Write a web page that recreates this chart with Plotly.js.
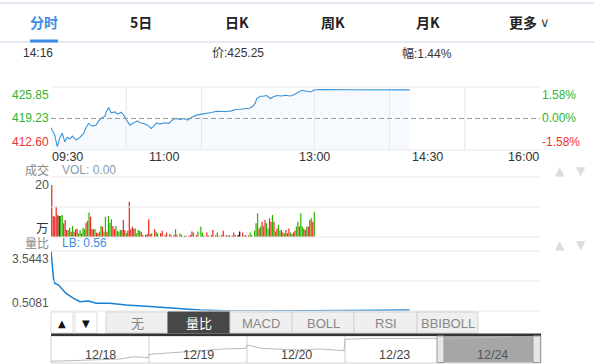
<!DOCTYPE html>
<html><head><meta charset="utf-8">
<script src="https://cdn.plot.ly/plotly-3.0.1.min.js"></script>
<style>html,body{margin:0;padding:0;background:#fff;overflow:hidden}#chart{width:594px;height:364px}</style>
</head><body><div id="chart"></div>
<script>
const DAY = '2024-12-24';
const tabLabels = ['分时','5日','日K','周K','月K','更多'];
const infoTime = '14:16';
const lastPrice = 425.25;
const changePct = 1.44;
const prevClose = 419.23;
const priceTicks = [425.85, 419.23, 412.60];
const pctTicks = ['1.58%', '0.00%', '-1.58%'];
const timeTicks = ['09:30','11:00','13:00','14:30','16:00'];
const gridTimes = ['10:30','11:30','13:00','14:00','15:00'];

const priceTimes = ['09:30','09:33','09:35','09:37','09:39','09:41','09:43','09:45','09:47','09:50',
 '09:53','09:56','09:58','10:00','10:03','10:06','10:08','10:10','10:13','10:14',
 '10:16','10:18','10:21','10:23','10:26','10:28','10:30','10:33','10:36','10:39',
 '10:41','10:44','10:47','10:50','10:52','10:54','10:57','11:00','11:04','11:06',
 '11:09','11:13','11:16','11:19','11:22','11:26','11:30','11:34','11:38','11:42',
 '11:46','11:50','11:54','11:57','12:01','12:05','12:08','12:11','12:13','12:14',
 '12:17','12:19','12:22','12:25','12:27','12:30','12:34','12:37','12:41','12:44',
 '12:46','12:50','12:53','12:57','13:00','13:04','13:30','14:00','14:16'];
const priceValues = [417.27,415.74,413.29,415.11,416.16,414.34,415.26,414.90,415.53,414.69,
 415.26,416.10,417.35,418.19,417.62,417.83,418.73,419.24,419.72,420.62,
 421.54,420.41,420.62,420.14,420.55,419.93,419.03,417.83,418.32,418.73,
 418.32,418.19,417.83,417.14,417.62,418.32,418.04,418.32,418.19,418.73,
 419.24,419.03,419.24,418.88,419.45,419.93,420.14,420.24,420.49,420.76,
 420.70,420.70,420.83,421.12,421.18,421.25,421.39,421.81,422.50,423.42,
 423.90,423.90,424.05,423.42,423.76,424.05,423.97,424.11,423.97,424.26,
 424.59,425.16,425.01,424.80,425.22,425.31,425.28,425.27,425.25];

const volValues = [20,8.1,7.8,11.7,8.5,8.1,8.1,8.5,5.3,6.5,
 2.7,2.7,3.6,2,4.2,2,3,3.2,1.4,2.7,
 1.4,3.6,3,5.5,6.3,9.4,7.8,3,3,3,
 1.7,1.4,2,4.2,4,2,7.8,2,8.1,5.5,
 6.8,4.2,3,4.2,2.4,2,2.7,2.7,6.5,2.7,
 1.4,2.4,13.6,3,4,3.3,3.3,1.4,2.7,2.4,
 2,0.8,0,0.8,1.2,6.8,1.2,1.4,0,3,
 2,1.4,0,1.4,2.4,0,0.8,1.7,0,1.2,
 0.8,0,0.8,3,1,0,1.4,0.8,0,0.4,
 0.5,0,0.5,0.8,2.1,1.7,0,0.8,2.1,0,
 4,1.7,0.6,0,1.7,0.6,0,0.8,2.7,0,
 0.8,1.7,0.5,0,0.8,2.4,0,0.8,0.5,0.6,
 0,0.5,1.7,0.8,0,0.8,2.1,0,1.7,0.5,
 0.8,0,0.6,1.7,0.8,0,2.4,5.3,9.1,3.3,
 4,5.9,4.2,6.5,5.3,3.3,7.2,5.9,8.5,5.9,
 2.1,3.3,4.6,2.4,2.7,1.7,1.4,2.7,1.4,3.3,
 1.7,1.2,1.7,2.4,4,5.9,4,9.1,4,3.3,
 2.7,4,4,6.5,7.2,5.9,9.7];
const volDir = [1,1,1,1,1,0,-1,-1,1,1,
 1,-1,-1,1,-1,1,1,1,-1,-1,
 1,-1,-1,1,-1,-1,1,1,1,-1,
 1,1,-1,-1,1,-1,-1,1,-1,-1,
 -1,1,1,-1,-1,-1,-1,1,1,1,
 -1,1,1,1,1,1,-1,-1,-1,-1,
 1,1,0,0,-1,1,1,-1,0,1,
 -1,-1,0,1,1,0,1,1,0,-1,
 1,0,1,-1,1,0,-1,1,0,0,
 1,0,1,1,1,-1,0,1,-1,0,
 -1,-1,1,0,1,-1,0,1,1,0,
 1,-1,-1,0,1,1,0,1,-1,0,
 0,1,1,1,0,0,0,0,1,-1,
 1,0,1,-1,-1,0,-1,-1,-1,1,
 -1,1,-1,1,-1,-1,1,1,-1,1,
 -1,1,-1,-1,1,1,-1,1,1,1,
 -1,-1,1,1,-1,-1,1,-1,-1,1,
 1,-1,1,1,-1,1,-1];
const volMaxLabel = '20';
const volUnit = '万';
const volLabel = 'VOL: 0.00';

const lbTimes = ['09:30','09:31','09:32','09:33','09:36','09:38','09:42','09:48','09:53','10:00',
 '10:06','10:17','10:30','10:49','11:07','11:29','11:55','12:22','12:49','13:30','14:16'];
const lbValues = [3.54,2.67,2.16,1.91,1.82,1.69,1.40,1.15,0.98,1.01,
 0.90,0.90,0.81,0.73,0.65,0.56,0.51,0.51,0.51,0.53,0.56];
const lbTicks = [3.5443, 0.5081];
const lbLabel = 'LB: 0.56';

const indicatorTabs = ['无','量比','MACD','BOLL','RSI','BBIBOLL'];
const activeIndicator = '量比';

const navDays = ['12/18','12/19','12/20','12/23','12/24'];
const navX = [0,0.25,0.5,0.7,0.85,0.99, 1.0,1.25,1.5,1.75,1.99, 2.0,2.15,2.5,2.75,2.99, 3.0,3.25,3.5,3.75,3.99, 4.0,4.25,4.5,4.7];
const navValues = [400.7,401.5,402,403,405.3,404.3, 407.7,409,411,413,413.7, 417,413.7,412,413,411.3, 422.7,423.5,423.7,423.5,423.7, 423.2,424,424.5,425.2];

// ---------- layout helpers ----------
const W = 594, H = 364;
const px = x => x / W;
const py = y => 1 - y / H;
const F = '"Liberation Sans", Arial, "Noto Sans CJK SC", sans-serif';
const T = t => DAY + ' ' + t;
const UP = '#f0261e', DOWN = '#2db400', FLAT = '#111111';
const GREEN_TXT = '#2eb52e', RED_TXT = '#f03232';
const GRID = '#e8e8e8';

const plotL = 51, plotR = 540, barsR = 315;

function txt(x, y, text, o) {
  o = o || {};
  return {xref: o.xref || 'paper', yref: o.yref || 'paper',
    x: o.xref ? x : px(x), y: o.yref ? y : py(y), text: text, showarrow: false,
    xanchor: o.xa || 'center', yanchor: o.ya || 'middle', borderpad: 0,
    font: {family: o.family || F, size: o.size || 12, color: o.color || '#333'}};
}
function hline(y, x0, x1, color, width, dash) {
  return {type: 'line', xref: 'paper', yref: 'paper', x0: px(x0), x1: px(x1), y0: py(y), y1: py(y),
    line: {color: color, width: width || 1, dash: dash || 'solid'}};
}
function rect(x0, y0, x1, y1, fill, lineColor, layer) {
  return {type: 'rect', xref: 'paper', yref: 'paper', x0: px(x0), x1: px(x1), y0: py(y1), y1: py(y0),
    fillcolor: fill, line: {color: lineColor || fill, width: lineColor ? 1 : 0}, layer: layer || 'above'};
}

// ---------- traces ----------
const priceTrace = {
  type: 'scatter', mode: 'lines', x: priceTimes.map(T), y: priceValues,
  xaxis: 'x', yaxis: 'y', line: {color: '#3a93d8', width: 1.1},
  fill: 'tozeroy', fillcolor: 'rgba(214,230,250,0.22)', hoverinfo: 'skip'
};
const volTrace = {
  type: 'bar', x: volValues.map((v, i) => i), y: volValues, xaxis: 'x2', yaxis: 'y2',
  marker: {color: volDir.map(d => d > 0 ? UP : (d < 0 ? DOWN : FLAT)), line: {width: 0}},
  hoverinfo: 'skip'
};
const lbTrace = {
  type: 'scatter', mode: 'lines', x: lbTimes.map(T), y: lbValues, xaxis: 'x', yaxis: 'y3',
  line: {color: '#1a80d2', width: 1.5}, hoverinfo: 'skip'
};
const navTrace = {
  type: 'scatter', mode: 'lines', x: navX, y: navValues, xaxis: 'x4', yaxis: 'y4',
  line: {color: '#b8b8b8', width: 1}, hoverinfo: 'skip'
};

const N = volValues.length;
const volRangeMax = -0.5 + N * (plotR - plotL) / (barsR - plotL);
const hid = {visible: false, fixedrange: true, showgrid: false, zeroline: false};

// ---------- shapes ----------
const shapes = [];
shapes.push(hline(3, 0, W, '#e4e9f1', 2));
shapes.push(hline(42, 0, W, '#dde4ee', 1.5));
shapes.push(rect(30, 39.5, 58, 42.5, '#3d8ee6'));
// main panel frame + grid
shapes.push(hline(87, plotL, plotR, GRID));
shapes.push(hline(150, plotL, plotR, GRID));
gridTimes.forEach(t => shapes.push({type: 'line', xref: 'x', yref: 'paper', x0: T(t), x1: T(t),
  y0: py(150), y1: py(87), line: {color: GRID, width: 1}, layer: 'below'}));
shapes.push({type: 'line', xref: 'paper', yref: 'y', x0: px(plotL), x1: px(plotR), y0: prevClose, y1: prevClose,
  line: {color: '#9a9a9a', width: 1, dash: '5px,3px'}});
// volume grid
[177, 207, 237].forEach(y => shapes.push(hline(y, plotL, plotR, GRID)));
// ratio grid
[251, 281, 311].forEach(y => shapes.push(hline(y, plotL, plotR, GRID)));
// buttons
shapes.push(rect(51, 312, 73, 333, '#ffffff', '#dddddd'));
shapes.push(rect(75, 312, 97, 333, '#ffffff', '#dddddd'));
const tabEdges = [106, 168, 230, 292, 354, 417, 478];
indicatorTabs.forEach((t, i) => {
  const act = t === activeIndicator;
  shapes.push(rect(tabEdges[i], 312, tabEdges[i + 1], 333, act ? '#474747' : '#efefef', act ? '#474747' : '#d4d4d4'));
});
// navigator
shapes.push(rect(51, 336, 541, 363, '#ffffff', '#d0d0d0', 'below'));
shapes.push(rect(444, 336, 533, 362.5, '#a6a6a6', null, 'below'));
[1, 2, 3].forEach(d => shapes.push({type: 'line', xref: 'x4', yref: 'paper', x0: d, x1: d,
  y0: py(363), y1: py(336), line: {color: '#d0d0d0', width: 1}, layer: 'below'}));
shapes.push(hline(334.8, 51, 541, '#333333', 2.5));
shapes.push(rect(437, 336, 444, 362.5, '#e6e6e6', '#9a9a9a'));
shapes.push(rect(533, 336, 540.5, 362.5, '#e6e6e6', '#9a9a9a'));

// ---------- annotations ----------
const ann = [];
const tabX = [44, 141, 237, 333, 428, 523];
tabLabels.forEach((t, i) => ann.push(txt(tabX[i], 22, '<b>' + t + '</b>',
  {size: 14, color: i === 0 ? '#3d8ee6' : '#222', family: '"Noto Sans CJK SC", ' + F})));
ann.push(txt(545, 22.5, '∨', {size: 13, color: '#444', family: '"DejaVu Sans", sans-serif'}));
ann.push(txt(22, 53, infoTime, {xa: 'left'}));
ann.push(txt(211, 53, '价:' + lastPrice.toFixed(2), {xa: 'left'}));
ann.push(txt(401, 53, '幅:' + changePct.toFixed(2) + '%', {xa: 'left'}));

const yAnch = ['top', 'middle', 'bottom'];
priceTicks.forEach((v, i) => {
  const c = i < 2 ? GREEN_TXT : RED_TXT;
  ann.push(txt(px(50), v, v.toFixed(2), {xref: 'paper', yref: 'y', xa: 'right', ya: yAnch[i], color: c}));
  ann.push(txt(px(541), v, pctTicks[i], {xref: 'paper', yref: 'y', xa: 'left', ya: yAnch[i], color: c}));
});
timeTicks.forEach((t, i) => ann.push(txt(T(t), py(157), t,
  {xref: 'x', yref: 'paper', xa: i === 0 ? 'left' : (i === timeTicks.length - 1 ? 'right' : 'center'), size: 12.5, color: '#333'})));

ann.push(txt(50, 170, '成交', {xa: 'right', color: '#888'}));
ann.push(txt(61, 170, volLabel, {xa: 'left', color: '#8a9bb0'}));
ann.push(txt(px(50), Number(volMaxLabel), volMaxLabel, {xref: 'paper', yref: 'y2', xa: 'right', color: '#555', size: 12.5}));
ann.push(txt(50, 229, volUnit, {xa: 'right', color: '#333', size: 12.5}));

ann.push(txt(50, 244, '量比', {xa: 'right', color: '#888'}));
ann.push(txt(61, 243.5, lbLabel, {xa: 'left', color: '#3a8ee6'}));
ann.push(txt(px(50), lbTicks[0], String(lbTicks[0]), {xref: 'paper', yref: 'y3', xa: 'right', ya: 'top', color: '#555'}));
ann.push(txt(px(50), lbTicks[1], String(lbTicks[1]), {xref: 'paper', yref: 'y3', xa: 'right', ya: 'bottom', color: '#555'}));

[171, 245].forEach(y => {
  ann.push(txt(560, y, '▲', {size: 12, color: '#dcdcdc', family: '"DejaVu Sans", sans-serif'}));
  ann.push(txt(581, y, '▼', {size: 12, color: '#dcdcdc', family: '"DejaVu Sans", sans-serif'}));
});
ann.push(txt(62, 323, '▲', {size: 10, color: '#111', family: '"DejaVu Sans", sans-serif'}));
ann.push(txt(86, 323, '▼', {size: 10, color: '#111', family: '"DejaVu Sans", sans-serif'}));
indicatorTabs.forEach((t, i) => {
  const act = t === activeIndicator;
  ann.push(txt((tabEdges[i] + tabEdges[i + 1]) / 2, 323, t, {size: 13, color: act ? '#ffffff' : '#888888'}));
});
navDays.forEach((d, i) => ann.push(txt(i + 0.5, py(355), d,
  {xref: 'x4', yref: 'paper', size: 12.5, color: i === navDays.length - 1 ? '#555' : '#444'})));

const layout = {
  width: W, height: H, margin: {l: 0, r: 0, t: 0, b: 0, pad: 0},
  paper_bgcolor: '#ffffff', plot_bgcolor: 'rgba(0,0,0,0)', showlegend: false,
  bargap: 0.18,
  xaxis: Object.assign({}, hid, {type: 'date', domain: [px(plotL), px(plotR)], range: [T('09:30'), T('16:00')], anchor: 'y'}),
  yaxis: Object.assign({}, hid, {domain: [py(150), py(87)], range: [priceTicks[2], priceTicks[0]], anchor: 'x'}),
  xaxis2: Object.assign({}, hid, {domain: [px(plotL), px(plotR)], range: [-0.5, volRangeMax], anchor: 'y2'}),
  yaxis2: Object.assign({}, hid, {domain: [py(237), py(177)], range: [0, 23.1], anchor: 'x2'}),
  yaxis3: Object.assign({}, hid, {domain: [py(311), py(251)], range: [lbTicks[1], lbTicks[0]], anchor: 'x'}),
  xaxis4: Object.assign({}, hid, {domain: [px(51), px(541)], range: [0, navDays.length], anchor: 'y4'}),
  yaxis4: Object.assign({}, hid, {domain: [py(362), py(336)], range: [400, 426], anchor: 'x4'}),
  shapes: shapes, annotations: ann
};

Plotly.newPlot('chart', [priceTrace, volTrace, lbTrace, navTrace], layout, {displayModeBar: false, staticPlot: true});
</script></body></html>
